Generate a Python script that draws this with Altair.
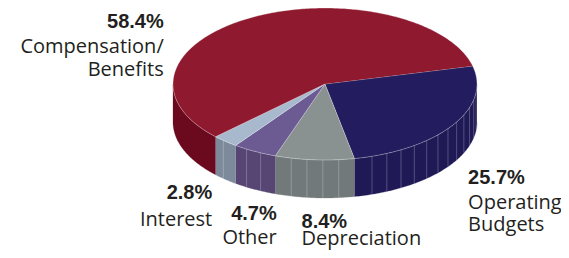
import numpy as np
import pandas as pd
import altair as alt

# ---- data ----
categories = ["Operating Budgets", "Depreciation", "Other", "Interest", "Compensation/Benefits"]
values = [25.7, 8.4, 4.7, 2.8, 58.4]
pct_labels = ["25.7%", "8.4%", "4.7%", "2.8%", "58.4%"]
name_lines = [["Operating", "Budgets"], ["Depreciation"], ["Other"], ["Interest"], ["Compensation/", "Benefits"]]

# ---- styles ----
top_colors = ["#231c5e", "#8a9191", "#6c5a93", "#a8b9ce", "#8f1a2f"]
side_colors = ["#1f1955", "#72797b", "#574573", "#7c8a9b", "#6b0a1e"]
TEXT_COLOR = "#231f20"

# ---- geometry of the pseudo-3D pie (plot pixels) ----
W, H = 553, 242
CX, CY, RX, RY, DEPTH = 317, 76, 152, 76, 38
START = 13.7  # degrees, first slice boundary, slices run clockwise

# label layout: (align, offset from rim point at mid-angle, line offsets)
label_layout = {
    "Operating Budgets": ("left", 15, 21, [25, 47]),
    "Depreciation": ("left", -13, 30, [17]),
    "Other": ("right", 22, 31, [24]),
    "Interest": ("right", -13, 20, [27]),
    "Compensation/Benefits": ("right", -88, 10.5, [25, 48]),
}


def pt(t_deg, drop=0.0):
    t = np.radians(t_deg)
    return CX + RX * np.cos(t), CY - RY * np.sin(t) + drop


def arc_angles(a, b):
    n = max(2, int(abs(a - b) / 0.75) + 1)
    return np.linspace(a, b, n)


top_rows, side_rows, rule_rows, label_rows = [], [], [], []
cum = 0.0
for k, (cat, v) in enumerate(zip(categories, values)):
    start = START - 360 * cum / 100
    end = start - 360 * v / 100
    cum += v
    # top face
    key = cat + " top"
    top_rows.append(dict(key=key, i=0, x=CX, y=CY))
    for j, t in enumerate(arc_angles(start, end)):
        x, y = pt(t)
        top_rows.append(dict(key=key, i=j + 1, x=x, y=y))
    # visible side (front half of the ellipse)
    hi, lo = min(start, 0), max(end, -180)
    if hi > lo:
        key = cat + " side"
        i = 0
        for t in arc_angles(hi, lo):
            x, y = pt(t)
            side_rows.append(dict(key=key, i=i, x=x, y=y)); i += 1
        for t in arc_angles(lo, hi):
            x, y = pt(t, DEPTH)
            side_rows.append(dict(key=key, i=i, x=x, y=y)); i += 1
        if cat != "Compensation/Benefits":
            t = hi - 6
            while t > lo + 1:
                x, y = pt(t)
                rule_rows.append(dict(x=x, y=y, y2=y + DEPTH))
                t -= 6
    # labels
    mid = (start + end) / 2
    front = np.sin(np.radians(mid)) < 0
    ax, ay = pt(mid, DEPTH if front else 0)
    align, ox, oy, gaps = label_layout[cat]
    bx, by = ax + ox, ay + oy
    label_rows.append(dict(x=bx, y=by, text=pct_labels[k], align=align, bold=True))
    for g, line in zip(gaps, name_lines[k]):
        label_rows.append(dict(x=bx, y=by + g, text=line, align=align, bold=False))

top_df = pd.DataFrame(top_rows)
side_df = pd.DataFrame(side_rows)
rule_df = pd.DataFrame(rule_rows)
label_df = pd.DataFrame(label_rows)

keys = [c + " top" for c in categories] + [c + " side" for c in categories]
fill_scale = alt.Scale(domain=keys, range=top_colors + side_colors)

xs = alt.X("x:Q", scale=alt.Scale(domain=[0, W]), axis=None)
ys = alt.Y("y:Q", scale=alt.Scale(domain=[0, H], reverse=True), axis=None)

sides = alt.Chart(side_df).mark_line(strokeWidth=0.4, strokeOpacity=0.6).encode(
    x=xs, y=ys, order=alt.Order("i:Q"), detail="key:N",
    fill=alt.Fill("key:N", scale=fill_scale, legend=None),
    stroke=alt.Stroke("key:N", scale=fill_scale, legend=None),
)

rules = alt.Chart(rule_df).mark_rule(color="#ffffff", strokeWidth=0.8, opacity=0.3).encode(
    x=xs, y=ys, y2="y2:Q"
)

tops = alt.Chart(top_df).mark_line(strokeWidth=0.7, strokeOpacity=0.45, color="#ffffff").encode(
    x=xs, y=ys, order=alt.Order("i:Q"), detail="key:N",
    fill=alt.Fill("key:N", scale=fill_scale, legend=None),
)

text_layers = []
for align in ["left", "right"]:
    for bold in [True, False]:
        text_layers.append(
            alt.Chart(label_df)
            .transform_filter((alt.datum.align == align) & (alt.datum.bold == bold))
            .mark_text(
                align=align,
                baseline="alphabetic",
                font="Liberation Sans" if bold else "Open Sans",
                fontSize=20,
                fontWeight="bold" if bold else "normal",
                color=TEXT_COLOR,
            )
            .encode(x=xs, y=ys, text="text:N")
        )

chart = (
    alt.layer(sides, rules, tops, *text_layers)
    .properties(width=W, height=H, padding=0, autosize="none")
    .configure_view(stroke=None)
)

chart.save("out.html", embed_options={"renderer": "svg", "actions": False})
